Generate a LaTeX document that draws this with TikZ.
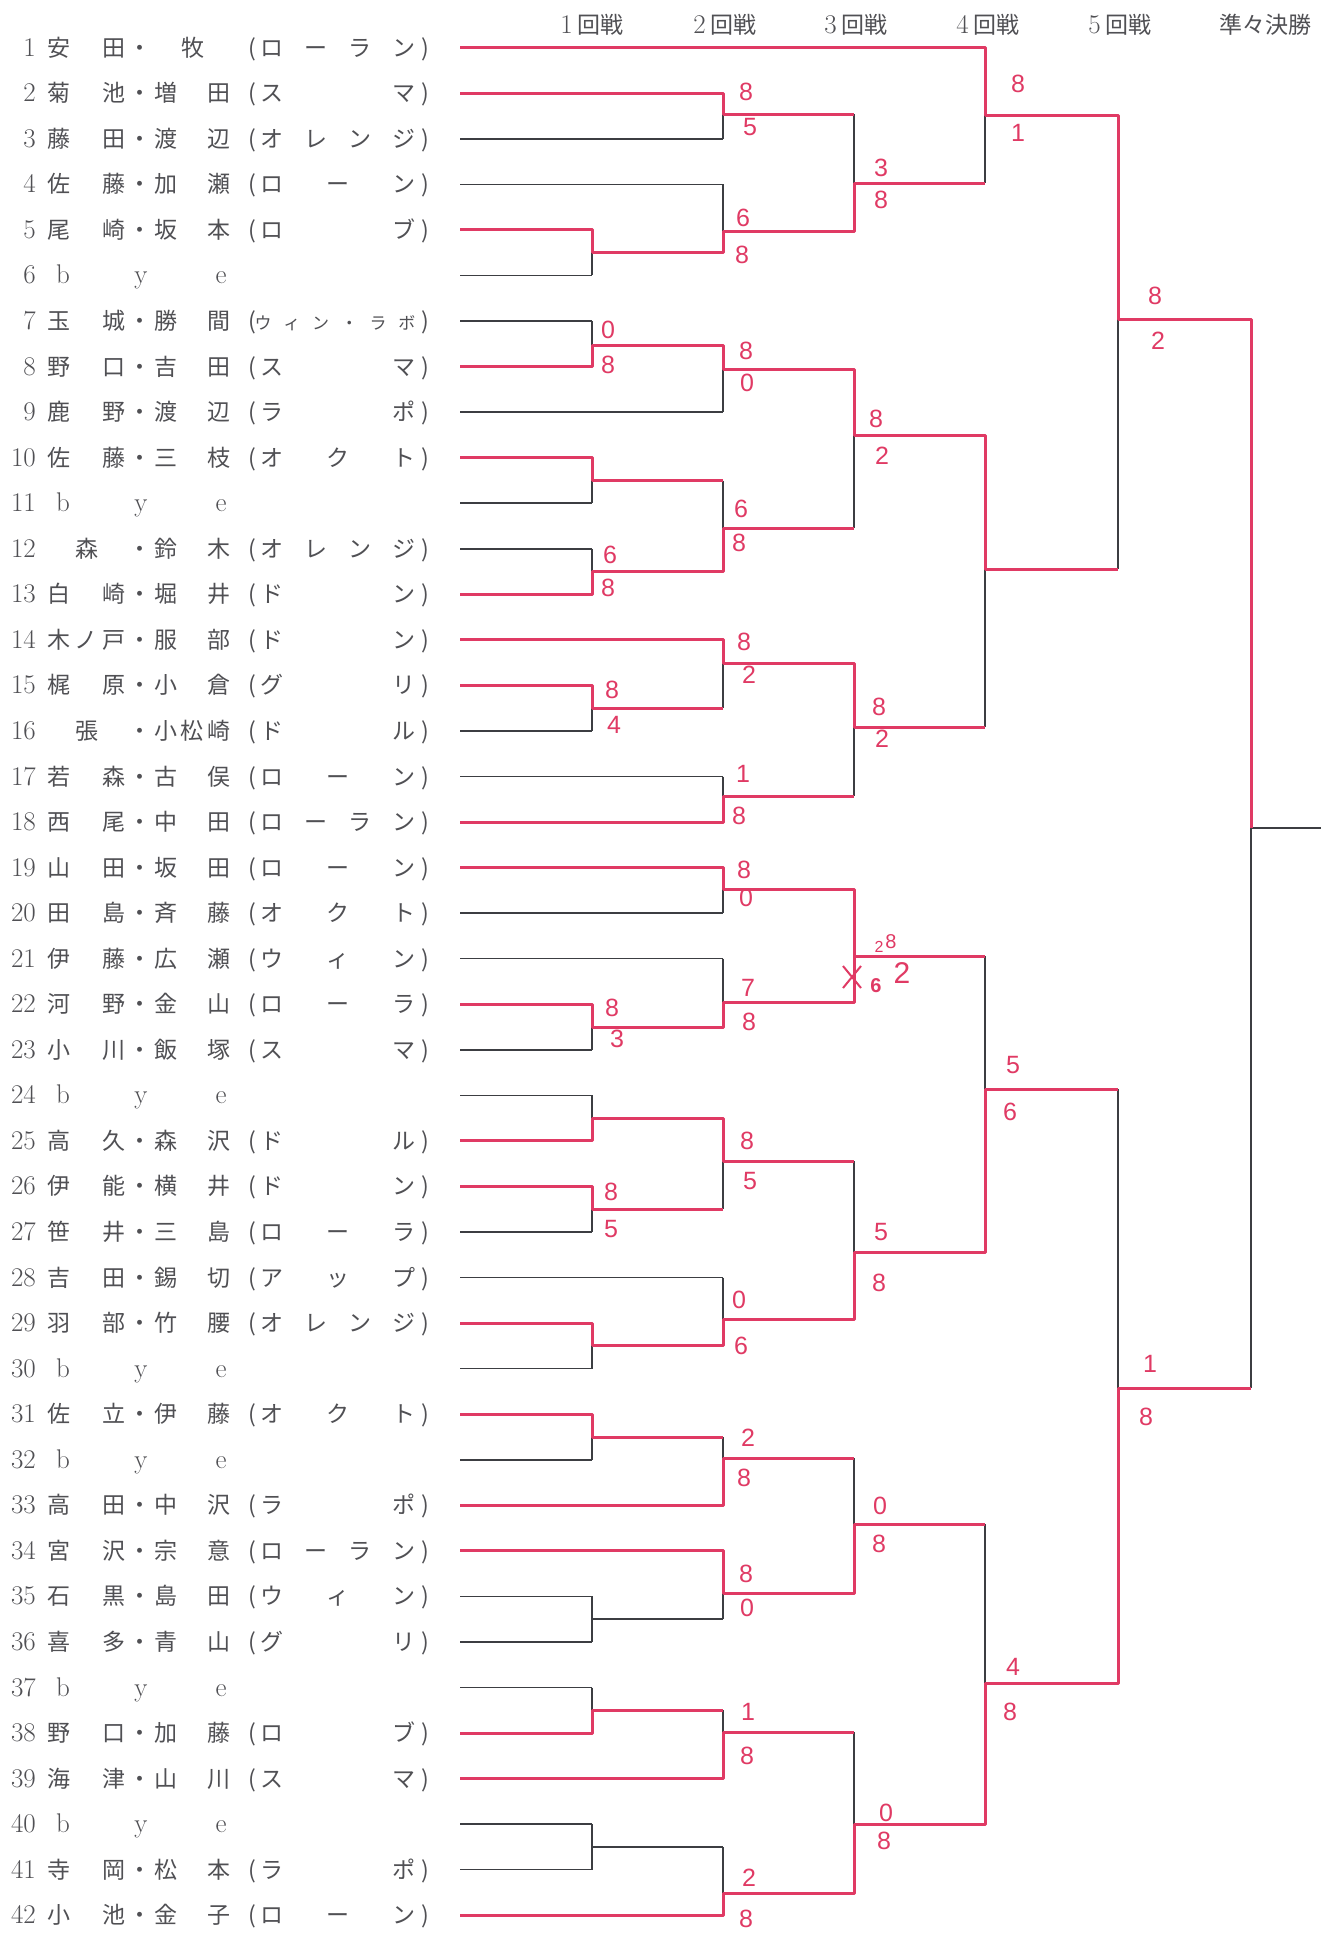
\documentclass[tikz,border=0pt]{standalone}
\usepackage{fontspec}
\usetikzlibrary{calc}
\newfontfamily\jp{Noto Sans CJK JP}
\newfontfamily\hand{Liberation Sans}
\definecolor{penred}{RGB}{224,58,100}
\definecolor{lineblk}{RGB}{60,62,66}
\definecolor{txtgray}{RGB}{80,80,84}
\newcommand\jpf{\jp\fontsize{23}{23}\selectfont}
\newcommand\jpsmall{\fontsize{17}{17}\selectfont}
\newcommand\lmf{\rmfamily\fontsize{27}{27}\selectfont}
\newcommand\scf{\hand\fontsize{25}{25}\selectfont}
\tikzset{
 blk/.style={draw=lineblk, line width=1.5pt},
 win/.style={draw=penred, line width=3pt, line join=round},
 nmst/.style={anchor=base, inner sep=0pt, text=txtgray, font=\jpf},
 numst/.style={anchor=base east, inner sep=0pt, text=txtgray, font=\lmf},
 lmst/.style={anchor=base, inner sep=0pt, text=txtgray, font=\lmf},
 hdst/.style={anchor=base, inner sep=0pt, text=txtgray, font=\jpf},
 sc/.style={inner sep=0pt, text=penred, font=\scf},
}
\newcommand\entry[4]{%
 \pgfmathsetmacro\yy{47.7+45.55*(#1-1)+8.5}%
 \node[numst] (num#1) at (36,\yy) {#1};
 \node[nmst] (fam#1) at (86.5,\yy) {\makebox[78pt][s]{#2}};
 \node[nmst] (dot#1) at (140,\yy) {・};
 \node[nmst] (giv#1) at (192.5,\yy) {\makebox[76pt][s]{#3}};
 \node[nmst] (lp#1) at (252,\yy) {(};
 \node[nmst] (club#1) at (338,\yy) {\makebox[155pt][s]{#4}};
 \node[nmst] (rp#1) at (425,\yy) {)};
}
\newcommand\byerow[1]{%
 \pgfmathsetmacro\yy{47.7+45.55*(#1-1)+8.5}%
 \node[numst] (num#1) at (36,\yy) {#1};
 \node[lmst] (byeb#1) at (63,\yy) {b};
 \node[lmst] (byey#1) at (141,\yy) {y};
 \node[lmst] (byee#1) at (221,\yy) {e};
}
\begin{document}
\begin{tikzpicture}[x=1pt,y=-1pt]
\fill[white] (0,0) rectangle (1321,1933);
\useasboundingbox (0,0) rectangle (1321,1933);

% ---------- coordinates ----------
\foreach \i in {1,...,42}{\coordinate (r\i) at (460,{47.7+45.55*(\i-1)});}
\foreach \nn/\vv in {a56/252.7, a78/345, a1011/480.5, a1213/571.5, a1516/708.2, a2223/1027, a2425/1118.2, a2627/1209.3, a2930/1345.9, a3132/1437, a3536/1619.2, a3738/1710.3, a4041/1847}
 {\coordinate (\nn) at (592,\vv);}
\foreach \nn/\vv in {bA/114, bB/231, bC/369, bD/528, bE/663, bF/796, bG/889, bH/1002, bI/1161, bJ/1319, bK/1458, bL/1593, bM/1732, bN/1893}
 {\coordinate (\nn) at (723,\vv);}
\foreach \nn/\vv in {cAB/183, cCD/435, cEF/727, cGH/956, cIJ/1252, cKL/1524, cMN/1824}
 {\coordinate (\nn) at (854,\vv);}
\foreach \nn/\vv in {d1/115, d2/569, d3/1089, d4/1683}
 {\coordinate (\nn) at (985,\vv);}
\coordinate (e1) at (1118,319);
\coordinate (e2) at (1118,1388);
\coordinate (f1) at (1251,828);
\coordinate (fend) at (1321,828);

% ---------- printed bracket (black) ----------
\foreach \i/\mm in {1/d1, 2/bA, 3/bA, 4/bB, 5/a56, 6/a56, 7/a78, 8/a78, 9/bC, 10/a1011, 11/a1011, 12/a1213, 13/a1213, 14/bE, 15/a1516, 16/a1516, 17/bF, 18/bF, 19/bG, 20/bG, 21/bH, 22/a2223, 23/a2223, 24/a2425, 25/a2425, 26/a2627, 27/a2627, 28/bJ, 29/a2930, 30/a2930, 31/a3132, 32/a3132, 33/bK, 34/bL, 35/a3536, 36/a3536, 37/a3738, 38/a3738, 39/bM, 40/a4041, 41/a4041, 42/bN}
 {\draw[blk] (r\i) -- (r\i -| \mm);}
\foreach \mm/\tp/\bt in {a56/r5/r6, a78/r7/r8, a1011/r10/r11, a1213/r12/r13, a1516/r15/r16, a2223/r22/r23, a2425/r24/r25, a2627/r26/r27, a2930/r29/r30, a3132/r31/r32, a3536/r35/r36, a3738/r37/r38, a4041/r40/r41,
 bA/r2/r3, bB/r4/a56, bC/a78/r9, bD/a1011/a1213, bE/r14/a1516, bF/r17/r18, bG/r19/r20, bH/r21/a2223, bI/a2425/a2627, bJ/r28/a2930, bK/a3132/r33, bL/r34/a3536, bM/a3738/r39, bN/a4041/r42,
 cAB/bA/bB, cCD/bC/bD, cEF/bE/bF, cGH/bG/bH, cIJ/bI/bJ, cKL/bK/bL, cMN/bM/bN,
 d1/r1/cAB, d2/cCD/cEF, d3/cGH/cIJ, d4/cKL/cMN, e1/d1/d2, e2/d3/d4, f1/e1/e2}
 {\draw[blk] (\tp -| \mm) -- (\bt -| \mm);}
\foreach \ss/\tt in {a56/bB, a78/bC, a1011/bD, a1213/bD, a1516/bE, a2223/bH, a2425/bI, a2627/bI, a2930/bJ, a3132/bK, a3536/bL, a3738/bM, a4041/bN,
 bA/cAB, bB/cAB, bC/cCD, bD/cCD, bE/cEF, bF/cEF, bG/cGH, bH/cGH, bI/cIJ, bJ/cIJ, bK/cKL, bL/cKL, bM/cMN, bN/cMN,
 cAB/d1, cCD/d2, cEF/d2, cGH/d3, cIJ/d3, cKL/d4, cMN/d4, d1/e1, d2/e1, d3/e2, d4/e2, e1/f1, e2/f1, f1/fend}
 {\draw[blk] (\ss) -- (\ss -| \tt);}

% ---------- results (red pen) ----------
\draw[win] (r1) -- (r1 -| d1) -- (d1) -- (d1 -| e1) -- (e1) -- (e1 -| f1) -- (f1);
\draw[win] (r2) -- (r2 -| bA) -- (bA) -- (bA -| cAB);
\draw[win] (r5) -- (r5 -| a56) -- (a56) -- (a56 -| bB) -- (bB) -- (bB -| cAB) -- (cAB) -- (cAB -| d1);
\draw[win] (r8) -- (r8 -| a78) -- (a78) -- (a78 -| bC) -- (bC) -- (bC -| cCD) -- (cCD) -- (cCD -| d2) -- (d2) -- (d2 -| e1);
\draw[win] (r10) -- (r10 -| a1011) -- (a1011) -- (a1011 -| bD);
\draw[win] (r13) -- (r13 -| a1213) -- (a1213) -- (a1213 -| bD) -- (bD) -- (bD -| cCD);
\draw[win] (r14) -- (r14 -| bE) -- (bE) -- (bE -| cEF) -- (cEF) -- (cEF -| d2);
\draw[win] (r15) -- (r15 -| a1516) -- (a1516) -- (a1516 -| bE);
\draw[win] (r18) -- (r18 -| bF) -- (bF) -- (bF -| cEF);
\draw[win] (r19) -- (r19 -| bG) -- (bG) -- (bG -| cGH) -- (cGH) -- (cGH -| d3);
\draw[win] (r22) -- (r22 -| a2223) -- (a2223) -- (a2223 -| bH) -- (bH) -- (bH -| cGH) -- (cGH);
\draw[win] (r25) -- (r25 -| a2425) -- (a2425) -- (a2425 -| bI) -- (bI) -- (bI -| cIJ);
\draw[win] (r26) -- (r26 -| a2627) -- (a2627) -- (a2627 -| bI);
\draw[win] (r29) -- (r29 -| a2930) -- (a2930) -- (a2930 -| bJ) -- (bJ) -- (bJ -| cIJ) -- (cIJ) -- (cIJ -| d3) -- (d3) -- (d3 -| e2);
\draw[win] (r31) -- (r31 -| a3132) -- (a3132) -- (a3132 -| bK);
\draw[win] (r33) -- (r33 -| bK) -- (bK) -- (bK -| cKL);
\draw[win] (r34) -- (r34 -| bL) -- (bL) -- (bL -| cKL) -- (cKL) -- (cKL -| d4);
\draw[win] (r38) -- (r38 -| a3738) -- (a3738) -- (a3738 -| bM);
\draw[win] (r39) -- (r39 -| bM) -- (bM) -- (bM -| cMN);
\draw[win] (r42) -- (r42 -| bN) -- (bN) -- (bN -| cMN) -- (cMN) -- (cMN -| d4) -- (d4) -- (d4 -| e2) -- (e2) -- (e2 -| f1);

% ---------- headers ----------
\node[hdst] (h1) at (592,33) {{\lmf 1}\hspace{5pt}回戦};
\node[hdst] (h2) at (725,33) {{\lmf 2}\hspace{5pt}回戦};
\node[hdst] (h3) at (856,33) {{\lmf 3}\hspace{5pt}回戦};
\node[hdst] (h4) at (988,33) {{\lmf 4}\hspace{5pt}回戦};
\node[hdst] (h5) at (1120,33) {{\lmf 5}\hspace{5pt}回戦};
\node[hdst] (h6) at (1265,33) {準々決勝};

% ---------- entries ----------
\entry{1}{安\hfill 田}{\hfill 牧\hfill}{ロ\hfill ー\hfill ラ\hfill ン}
\entry{2}{菊\hfill 池}{増\hfill 田}{ス\hfill マ}
\entry{3}{藤\hfill 田}{渡\hfill 辺}{オ\hfill レ\hfill ン\hfill ジ}
\entry{4}{佐\hfill 藤}{加\hfill 瀬}{ロ\hfill ー\hfill ン}
\entry{5}{尾\hfill 崎}{坂\hfill 本}{ロ\hfill ブ}
\byerow{6}
\entry{7}{玉\hfill 城}{勝\hfill 間}{\hspace{-6pt}\jpsmall ウ\hfill ィ\hfill ン\hfill ・\hfill ラ\hfill ボ}
\entry{8}{野\hfill 口}{吉\hfill 田}{ス\hfill マ}
\entry{9}{鹿\hfill 野}{渡\hfill 辺}{ラ\hfill ポ}
\entry{10}{佐\hfill 藤}{三\hfill 枝}{オ\hfill ク\hfill ト}
\byerow{11}
\entry{12}{\hfill 森\hfill}{鈴\hfill 木}{オ\hfill レ\hfill ン\hfill ジ}
\entry{13}{白\hfill 崎}{堀\hfill 井}{ド\hfill ン}
\entry{14}{木\hfill ノ\hfill 戸}{服\hfill 部}{ド\hfill ン}
\entry{15}{梶\hfill 原}{小\hfill 倉}{グ\hfill リ}
\entry{16}{\hfill 張\hfill}{小\hfill 松\hfill 崎}{ド\hfill ル}
\entry{17}{若\hfill 森}{古\hfill 俣}{ロ\hfill ー\hfill ン}
\entry{18}{西\hfill 尾}{中\hfill 田}{ロ\hfill ー\hfill ラ\hfill ン}
\entry{19}{山\hfill 田}{坂\hfill 田}{ロ\hfill ー\hfill ン}
\entry{20}{田\hfill 島}{斉\hfill 藤}{オ\hfill ク\hfill ト}
\entry{21}{伊\hfill 藤}{広\hfill 瀬}{ウ\hfill ィ\hfill ン}
\entry{22}{河\hfill 野}{金\hfill 山}{ロ\hfill ー\hfill ラ}
\entry{23}{小\hfill 川}{飯\hfill 塚}{ス\hfill マ}
\byerow{24}
\entry{25}{高\hfill 久}{森\hfill 沢}{ド\hfill ル}
\entry{26}{伊\hfill 能}{横\hfill 井}{ド\hfill ン}
\entry{27}{笹\hfill 井}{三\hfill 島}{ロ\hfill ー\hfill ラ}
\entry{28}{吉\hfill 田}{錫\hfill 切}{ア\hfill ッ\hfill プ}
\entry{29}{羽\hfill 部}{竹\hfill 腰}{オ\hfill レ\hfill ン\hfill ジ}
\byerow{30}
\entry{31}{佐\hfill 立}{伊\hfill 藤}{オ\hfill ク\hfill ト}
\byerow{32}
\entry{33}{高\hfill 田}{中\hfill 沢}{ラ\hfill ポ}
\entry{34}{宮\hfill 沢}{宗\hfill 意}{ロ\hfill ー\hfill ラ\hfill ン}
\entry{35}{石\hfill 黒}{島\hfill 田}{ウ\hfill ィ\hfill ン}
\entry{36}{喜\hfill 多}{青\hfill 山}{グ\hfill リ}
\byerow{37}
\entry{38}{野\hfill 口}{加\hfill 藤}{ロ\hfill ブ}
\entry{39}{海\hfill 津}{山\hfill 川}{ス\hfill マ}
\byerow{40}
\entry{41}{寺\hfill 岡}{松\hfill 本}{ラ\hfill ポ}
\entry{42}{小\hfill 池}{金\hfill 子}{ロ\hfill ー\hfill ン}

% ---------- scores ----------
\node[sc] (s1a) at (1018,84) {8};   \node[sc] (s1b) at (1018,133) {1};
\node[sc] (s2a) at (746,92) {8};    \node[sc] (s2b) at (750,127) {5};
\node[sc] (s3a) at (881,168) {3};   \node[sc] (s3b) at (881,200) {8};
\node[sc] (s4a) at (743,218) {6};   \node[sc] (s4b) at (742,255) {8};
\node[sc] (s5a) at (1155,296) {8};  \node[sc] (s5b) at (1158,341) {2};
\node[sc] (s6a) at (608,330) {0};   \node[sc] (s6b) at (608,365) {8};
\node[sc] (s7a) at (746,351) {8};   \node[sc] (s7b) at (747,383) {0};
\node[sc] (s8a) at (876,419) {8};   \node[sc] (s8b) at (882,456) {2};
\node[sc] (s9a) at (741,509) {6};   \node[sc] (s9b) at (739,543) {8};
\node[sc] (s10a) at (610,555) {6};  \node[sc] (s10b) at (608,588) {8};
\node[sc] (s11a) at (744,642) {8};  \node[sc] (s11b) at (749,675) {2};
\node[sc] (s12a) at (612,690) {8};  \node[sc] (s12b) at (614,725) {4};
\node[sc] (s13a) at (879,707) {8};  \node[sc] (s13b) at (882,739) {2};
\node[sc] (s14a) at (743,774) {1};  \node[sc] (s14b) at (739,816) {8};
\node[sc] (s15a) at (744,870) {8};  \node[sc] (s15b) at (746,898) {0};
\node[sc,font=\hand\fontsize{16}{16}\selectfont] (s16a) at (879,947) {2};
\node[sc,font=\hand\fontsize{20}{20}\selectfont] (s16b) at (891,942) {8};
\node[sc,font=\hand\bfseries\fontsize{20}{20}\selectfont] (s16c) at (876,986) {6};
\node[sc,font=\hand\fontsize{30}{30}\selectfont] (s16d) at (902,973) {2};
\draw[draw=penred, line width=2pt] (843,966) -- (861,988) (843,988) -- (861,966);
\node[sc] (s17a) at (748,988) {7};  \node[sc] (s17b) at (749,1022) {8};
\node[sc] (s18a) at (612,1008) {8}; \node[sc] (s18b) at (617,1039) {3};
\node[sc] (s19a) at (1013,1065) {5}; \node[sc] (s19b) at (1010,1112) {6};
\node[sc] (s20a) at (747,1141) {8}; \node[sc] (s20b) at (750,1181) {5};
\node[sc] (s21a) at (611,1192) {8}; \node[sc] (s21b) at (611,1229) {5};
\node[sc] (s22a) at (881,1232) {5}; \node[sc] (s22b) at (879,1283) {8};
\node[sc] (s23a) at (739,1300) {0}; \node[sc] (s23b) at (741,1346) {6};
\node[sc] (s24a) at (1150,1364) {1}; \node[sc] (s24b) at (1146,1417) {8};
\node[sc] (s25a) at (748,1438) {2}; \node[sc] (s25b) at (744,1478) {8};
\node[sc] (s26a) at (880,1506) {0}; \node[sc] (s26b) at (879,1544) {8};
\node[sc] (s27a) at (746,1574) {8}; \node[sc] (s27b) at (747,1608) {0};
\node[sc] (s28a) at (1013,1667) {4}; \node[sc] (s28b) at (1010,1712) {8};
\node[sc] (s29a) at (748,1712) {1}; \node[sc] (s29b) at (747,1756) {8};
\node[sc] (s30a) at (886,1813) {0}; \node[sc] (s30b) at (884,1841) {8};
\node[sc] (s31a) at (749,1878) {2}; \node[sc] (s31b) at (746,1919) {8};
\end{tikzpicture}
\end{document}
